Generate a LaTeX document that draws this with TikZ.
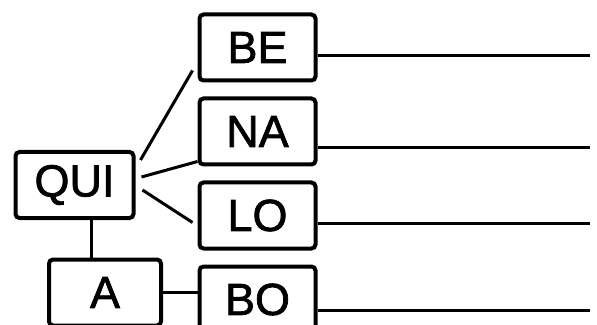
\documentclass[tikz,border=0pt]{standalone}
\usepackage{fontspec}
\setmainfont{Liberation Sans}
\newfontfamily\boxfont{Liberation Sans}[UprightFeatures={FakeBold=1.6}]
\usetikzlibrary{positioning}

\begin{document}
\begin{tikzpicture}[
            x=0.5pt, y=-0.5pt,
            box/.style={draw, line width=2pt, rounded corners=2pt, minimum width=58pt, minimum height=33pt, font=\boxfont\fontsize{22.5}{24}\selectfont},
            link/.style={line width=1.5pt}
        ]
            \useasboundingbox (0,0) rectangle (597,325);
            \clip (0,0) rectangle (597,325);

            \node [box] (be) at (257.5,47.5) {BE};
            \node [below=7pt of be, box] (na) {NA};
            \node [below=7pt of na, box] (lo) {LO};
            \node [below=7pt of lo, box] (bo) {BO};
            \node [box, minimum width=59pt] (qui) at (74.5,185) {QUI};
            \node [box, minimum width=56pt] (a) at (105,292.5) {A};

            % free ends of the long lines
            \coordinate (be end) at (590,56);
            \coordinate (na end) at (590,148);
            \coordinate (lo end) at (590,223);
            \coordinate (bo end) at (590,310);
            \coordinate (qa) at (91,0);

            \draw [link] ([shift={(5,-25)}]qui.east) -- ([shift={(-5,-12)}]be.south west);
            \draw [link] ([shift={(6,-8)}]qui.east) -- ([yshift=-15]na.west);
            \draw [link] ([shift={(7,5)}]qui.east) -- ([shift={(-5,7)}]lo.west);
            \draw [link] (qui.south -| qa) -- (a.north -| qa);
            \draw [link] (a.east) -- (a.east -| bo.west);

            \draw [link] (be end -| be.east) -- (be end);
            \draw [link] (na end -| na.east) -- (na end);
            \draw [link] (lo end -| lo.east) -- (lo end);
            \draw [link] (bo end -| bo.east) -- (bo end);

        \end{tikzpicture}
\end{document}
